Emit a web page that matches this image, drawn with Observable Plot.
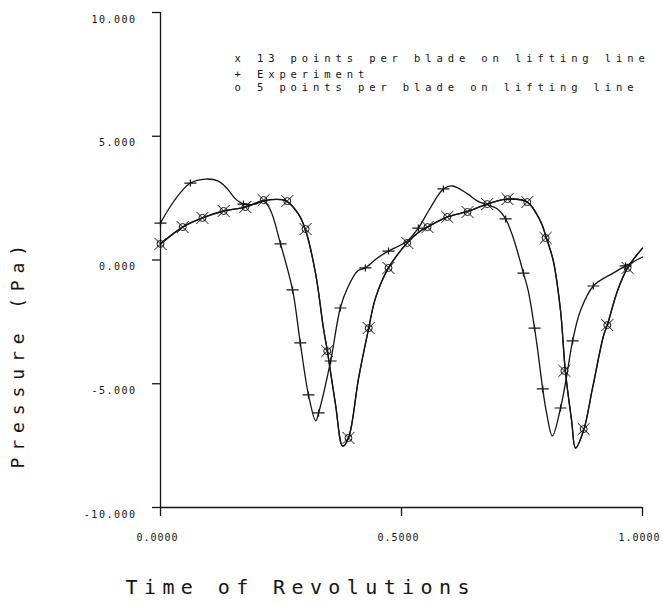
<!DOCTYPE html>
<html>
<head>
<meta charset="utf-8">
<script src="https://cdn.jsdelivr.net/npm/d3@7"></script>
<script src="https://cdn.jsdelivr.net/npm/@observablehq/plot@0.6"></script>
<style>
  html, body { margin: 0; padding: 0; background: #fff; }
  #chart svg { display: block; }
  g[aria-label="y-axis tick label"] text { letter-spacing: 1.5px; }
  g[aria-label="x-axis tick label"] text { letter-spacing: 1px; }
</style>
</head>
<body>
<div id="chart"></div>
<script>
// ---- Axis ticks & titles ----
const xTicks = [0, 0.5, 1];
const yTicks = [-10, -5, 0, 5, 10];
const xTitle = "Time of Revolutions";
const yTitle = "Pressure (Pa)";

// ---- Legend ----
const legendSymbols = ["x", "+", "o"];
const legendLabels = [
  "13 points per blade on lifting line",
  "Experiment",
  "5 points per blade on lifting line"
];

// ---- Computed curve (13 points per blade) : line vertices ----
const calcTime = [0.000, 0.046, 0.087, 0.131, 0.176, 0.214, 0.259, 0.286, 0.301, 0.322,
  0.338, 0.346, 0.363, 0.378, 0.390, 0.411, 0.432, 0.446, 0.473, 0.512,
  0.539, 0.554, 0.595, 0.637, 0.678, 0.720, 0.761, 0.788, 0.801, 0.815,
  0.830, 0.840, 0.853, 0.861, 0.878, 0.896, 0.919, 0.927, 0.948, 0.969, 1.000];
const calcPressure13 = [0.65, 1.33, 1.70, 1.98, 2.14, 2.40, 2.40, 1.86, 1.20, -0.57,
  -2.75, -3.65, -5.82, -7.52, -7.19, -4.77, -2.75, -1.54, -0.32, 0.69,
  1.17, 1.33, 1.74, 1.96, 2.26, 2.46, 2.34, 1.58, 0.87, -0.04,
  -2.06, -4.50, -6.50, -7.60, -6.87, -5.21, -3.07, -2.63, -1.25, -0.32, 0.48];
// ---- Computed curve (5 points per blade) : coincides with the 13-point curve ----
const calcPressure5 = [0.65, 1.33, 1.70, 1.98, 2.14, 2.40, 2.40, 1.86, 1.20, -0.57,
  -2.75, -3.65, -5.82, -7.52, -7.19, -4.77, -2.75, -1.54, -0.32, 0.69,
  1.17, 1.33, 1.74, 1.96, 2.26, 2.46, 2.34, 1.58, 0.87, -0.04,
  -2.06, -4.50, -6.50, -7.60, -6.87, -5.21, -3.07, -2.63, -1.25, -0.32, 0.48];

// ---- Computed markers ----
const calcMarkTime = [0.000, 0.046, 0.087, 0.131, 0.176, 0.214, 0.263, 0.301, 0.346, 0.390,
  0.432, 0.473, 0.512, 0.554, 0.595, 0.637, 0.678, 0.720, 0.761, 0.799,
  0.838, 0.878, 0.927, 0.969];
const calcMark13 = [0.65, 1.33, 1.70, 1.98, 2.14, 2.42, 2.38, 1.25, -3.68, -7.19,
  -2.75, -0.32, 0.69, 1.33, 1.74, 1.94, 2.26, 2.46, 2.34, 0.89,
  -4.48, -6.83, -2.63, -0.32];
const calcMark5 = [0.65, 1.33, 1.70, 1.98, 2.14, 2.42, 2.38, 1.25, -3.68, -7.19,
  -2.75, -0.32, 0.69, 1.33, 1.74, 1.94, 2.26, 2.46, 2.34, 0.89,
  -4.48, -6.83, -2.63, -0.32];

// ---- Experiment : line vertices ----
const expTime = [0.000, 0.017, 0.041, 0.062, 0.093, 0.120, 0.139, 0.156, 0.172, 0.197,
  0.214, 0.228, 0.249, 0.274, 0.290, 0.307, 0.322, 0.328, 0.353, 0.373,
  0.388, 0.409, 0.425, 0.450, 0.473, 0.512, 0.535, 0.556, 0.587, 0.606,
  0.637, 0.658, 0.699, 0.716, 0.732, 0.753, 0.763, 0.776, 0.782, 0.793,
  0.801, 0.813, 0.830, 0.842, 0.855, 0.871, 0.898, 0.940, 0.965, 1.000];
const expPressure = [1.49, 2.06, 2.71, 3.11, 3.27, 3.19, 2.87, 2.46, 2.26, 2.26,
  2.38, 2.02, 0.65, -1.21, -3.35, -5.45, -6.50, -6.18, -4.08, -1.94,
  -1.13, -0.44, -0.32, 0.08, 0.36, 0.77, 1.29, 1.98, 2.87, 2.99,
  2.67, 2.38, 2.06, 1.66, 0.89, -0.53, -1.25, -2.75, -3.56, -5.21,
  -6.18, -7.11, -5.98, -4.77, -3.27, -2.06, -1.05, -0.52, -0.24, 0.12];

// ---- Experiment markers ----
const expMarkTime = [0.000, 0.062, 0.172, 0.249, 0.274, 0.290, 0.307, 0.328, 0.353, 0.373,
  0.425, 0.473, 0.535, 0.587, 0.716, 0.753, 0.776, 0.793, 0.830, 0.855, 0.898, 0.965];
const expMarkPressure = [1.49, 3.11, 2.26, 0.65, -1.21, -3.35, -5.45, -6.18, -4.08, -1.94,
  -0.32, 0.36, 1.29, 2.87, 1.66, -0.53, -2.75, -5.21, -5.98, -3.27, -1.05, -0.24];

const ink = "#141414";
const mono = "'DejaVu Sans Mono', monospace";
const idx = a => a.map((_, i) => i);

// wide "+" marker as drawn by the plotter
const widePlus = {
  draw(ctx) {
    ctx.moveTo(-6, 0); ctx.lineTo(6, 0);
    ctx.moveTo(0, -3.5); ctx.lineTo(0, 3.5);
  }
};

const legendText = legendLabels.map((l, i) => legendSymbols[i] + " " + l);

const plot = Plot.plot({
  width: 663,
  height: 604,
  marginLeft: 160,
  marginRight: 21,
  marginTop: 12,
  marginBottom: 97,
  style: {fontFamily: mono, fontSize: "10px", color: ink, background: "#fff"},
  x: {domain: [0, 1]},
  y: {domain: [-10, 10]},
  marks: [
    Plot.ruleX([0], {stroke: ink, strokeWidth: 1.3}),
    Plot.ruleY([-10], {stroke: ink, strokeWidth: 1.3}),
    Plot.axisY({ticks: yTicks, tickSize: 8, tickFormat: () => "", label: null, stroke: ink, strokeWidth: 1.3}),
    Plot.axisY({ticks: yTicks, tickSize: 0, tickPadding: 24, dy: 7, tickFormat: d => d.toFixed(3), label: null, fill: ink}),
    Plot.axisX({ticks: xTicks, tickSize: 9, tickFormat: () => "", label: null, stroke: ink, strokeWidth: 1.3}),
    Plot.axisX({ticks: xTicks, tickSize: 0, tickPadding: 26, dx: -3, tickFormat: d => d.toFixed(4), label: null, fill: ink}),

    Plot.line(idx(calcTime), {x: calcTime, y: calcPressure5, curve: "catmull-rom", stroke: ink, strokeWidth: 1.3}),
    Plot.line(idx(calcTime), {x: calcTime, y: calcPressure13, curve: "catmull-rom", stroke: ink, strokeWidth: 1.3}),
    Plot.line(idx(expTime), {x: expTime, y: expPressure, curve: "catmull-rom", stroke: ink, strokeWidth: 1.3}),

    Plot.dot(idx(calcMarkTime), {x: calcMarkTime, y: calcMark13, symbol: "times", r: 5.5, fill: "none", stroke: ink, strokeWidth: 1}),
    Plot.dot(idx(calcMarkTime), {x: calcMarkTime, y: calcMark5, symbol: "circle", r: 3.5, fill: "none", stroke: ink, strokeWidth: 1}),
    Plot.dot(idx(expMarkTime), {x: expMarkTime, y: expMarkPressure, symbol: widePlus, fill: "none", stroke: ink, strokeWidth: 1.2}),

    Plot.text([legendText[0]], {frameAnchor: "top-left", dx: 74, dy: 49, textAnchor: "start", lineAnchor: "bottom", fontSize: 10.5, fill: ink}),
    Plot.text([legendText[1]], {frameAnchor: "top-left", dx: 74, dy: 65, textAnchor: "start", lineAnchor: "bottom", fontSize: 10.5, fill: ink}),
    Plot.text([legendText[2]], {frameAnchor: "top-left", dx: 74, dy: 78, textAnchor: "start", lineAnchor: "bottom", fontSize: 10.5, fill: ink}),

    Plot.text([xTitle], {frameAnchor: "bottom-left", dx: -35, dy: 86, textAnchor: "start", lineAnchor: "bottom", fontSize: 20, fill: ink}),
    Plot.text([yTitle], {frameAnchor: "bottom-left", dx: -137, dy: -39, rotate: -90, textAnchor: "start", lineAnchor: "bottom", fontSize: 18, fill: ink})
  ]
});

const spacing = new Map([
  [xTitle, "6.4px"],
  [yTitle, "6.9px"],
  [legendText[0], "4.9px"],
  [legendText[1], "4.9px"],
  [legendText[2], "4.9px"]
]);
d3.select(plot).selectAll("text").each(function() {
  const t = this.textContent;
  if (spacing.has(t)) this.setAttribute("letter-spacing", spacing.get(t));
});

document.getElementById("chart").appendChild(plot);
</script>
</body>
</html>
